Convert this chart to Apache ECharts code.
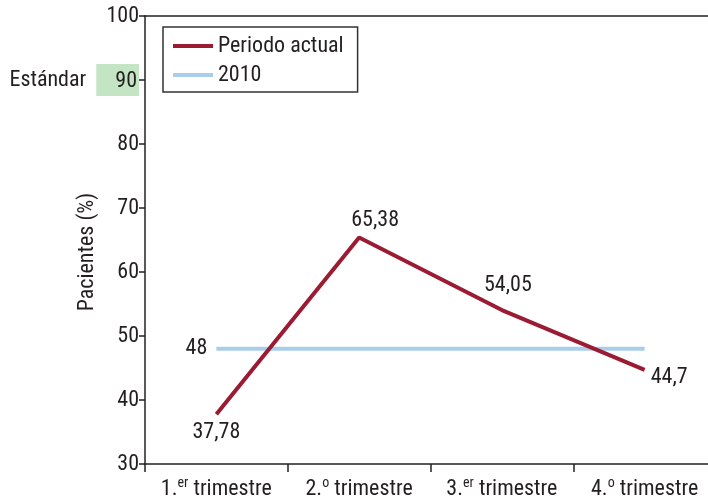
<!DOCTYPE html>
<html>
<head>
<meta charset="utf-8">
<script src="https://cdn.jsdelivr.net/npm/echarts@6/dist/echarts.min.js"></script>
<style>
  html, body { margin: 0; padding: 0; background: #fff; }
  #chart { width: 708px; height: 504px; }
</style>
</head>
<body>
<div id="chart"></div>
<script>
// Quarterly share of patients, current period vs. 2010 reference
const categories = ['1.{sup|er} trimestre', '2.{sup|o} trimestre', '3.{sup|er} trimestre', '4.{sup|o} trimestre'];
const periodoActual = [37.78, 65.38, 54.05, 44.7];
const ref2010 = [48, 48, 48, 48];
const yTicks = { min: 30, max: 100, interval: 10 };
const standardValue = 90;
const yAxisTitle = 'Pacientes (%)';

const FONT = "'Roboto Condensed', 'Liberation Sans', sans-serif";
const FS = 22;
const TXT = '#231f20';
const RED = '#9b1b33';
const BLUE = '#abcdec';

const fmt = v => String(v).replace('.', ',');

// Per-point label placement for the current-period line
const labelPlacement = [
  { position: 'bottom', distance: 7, offset: [0, 0] },
  { position: 'top', distance: 6, offset: [16, 0] },
  { position: 'top', distance: 14, offset: [6, 0] },
  { position: 'right', distance: 6, offset: [0, 8] }
];

const chart = echarts.init(document.getElementById('chart'), null, { renderer: 'canvas' });

chart.setOption({
  animation: false,
  textStyle: { fontFamily: FONT },
  grid: { left: 145, top: 16, right: -8, bottom: 40, containLabel: false, outerBoundsMode: 'none' },
  legend: {
    left: 163, top: 27,
    orient: 'vertical',
    padding: [8, 14, 6, 10],
    itemGap: 7,
    itemWidth: 40,
    itemHeight: 4,
    icon: 'rect',
    borderColor: '#333',
    borderWidth: 1.5,
    textStyle: { fontFamily: FONT, fontSize: FS, color: TXT },
    data: ['Periodo actual', '2010']
  },
  graphic: [{
    type: 'text',
    x: 87, y: 252,
    rotation: Math.PI / 2,
    style: {
      text: yAxisTitle,
      fill: TXT,
      font: FS + 'px ' + FONT,
      align: 'center',
      verticalAlign: 'middle'
    }
  }],
  xAxis: [{
    type: 'category',
    data: categories,
    boundaryGap: true,
    axisLine: { lineStyle: { color: '#222', width: 1.5 } },
    axisTick: { show: true, length: 8, lineStyle: { color: '#222', width: 1.5 } },
    axisLabel: {
      color: TXT, fontSize: FS, margin: 12, interval: 0,
      rich: {
        sup: { fontSize: 14, verticalAlign: 'top', padding: [0, 0, 12, 0], color: TXT, fontFamily: FONT }
      }
    }
  }, {
    type: 'category',
    position: 'top',
    data: categories,
    axisLine: { show: true, lineStyle: { color: '#222', width: 1.5 } },
    axisTick: { show: false },
    axisLabel: { show: false }
  }],
  yAxis: {
    type: 'value',
    min: yTicks.min, max: yTicks.max, interval: yTicks.interval,
    splitLine: { show: false },
    axisLine: { show: true, lineStyle: { color: '#222', width: 1.5 } },
    axisTick: { show: true, length: 6, lineStyle: { color: '#222', width: 1.5 } },
    axisLabel: {
      color: TXT, fontSize: FS, margin: 6,
      formatter: v => v === standardValue ? '{std|Estándar}{box|' + v + '}' : String(v),
      rich: {
        std: { fontSize: FS, color: TXT, fontFamily: FONT, padding: [0, 10, 0, 0] },
        box: { fontSize: FS, color: TXT, fontFamily: FONT, backgroundColor: '#c3e5c4', padding: [6, 2, 4, 19] }
      }
    }
  },
  series: [{
    name: 'Periodo actual',
    type: 'line',
    data: periodoActual.map((v, i) => ({
      value: v,
      label: labelPlacement[i]
    })),
    symbol: 'circle',
    symbolSize: 0.1,
    itemStyle: { color: RED },
    lineStyle: { color: RED, width: 4 },
    label: { show: true, formatter: p => fmt(p.value), color: TXT, fontSize: FS, fontFamily: FONT },
    z: 3
  }, {
    name: '2010',
    type: 'line',
    data: ref2010.map((v, i) => ({
      value: v,
      label: { show: i === 0, position: 'left', distance: 9 }
    })),
    symbol: 'circle',
    symbolSize: 0.1,
    itemStyle: { color: BLUE },
    lineStyle: { color: BLUE, width: 4 },
    label: { formatter: p => fmt(p.value), color: TXT, fontSize: FS, fontFamily: FONT },
    z: 2
  }]
});
</script>
</body>
</html>
